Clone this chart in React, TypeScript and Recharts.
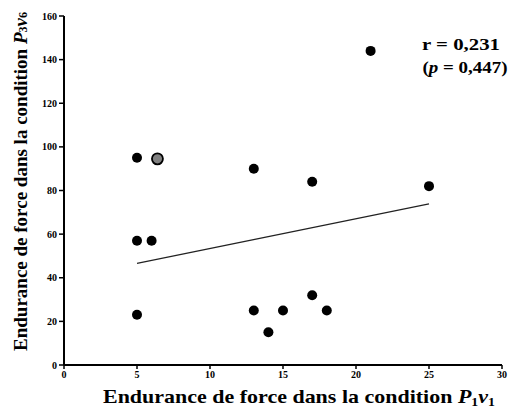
import {
  ScatterChart,
  Scatter,
  XAxis,
  YAxis,
  ReferenceLine,
  Label,
} from "recharts";

const xValues = [5, 5, 5, 6, 13, 13, 14, 15, 17, 17, 18, 21, 25];
const yValues = [95, 57, 23, 57, 90, 25, 15, 25, 32, 84, 25, 144, 82];
const outlierX = [6.4];
const outlierY = [94.5];
const trendX = [5, 25];
const trendY = [46.6, 73.9];
const xTicks = [0, 5, 10, 15, 20, 25, 30];
const yTicks = [0, 20, 40, 60, 80, 100, 120, 140, 160];

const FONT = '"Liberation Serif", "Times New Roman", serif';

const points = xValues.map((x, i) => ({ x, y: yValues[i] }));
const outlier = outlierX.map((x, i) => ({ x, y: outlierY[i] }));

const BlackDot = (props: any) => (
  <circle cx={props.cx} cy={props.cy} r={5} fill="#000" />
);
const GreyDot = (props: any) => (
  <circle
    cx={props.cx}
    cy={props.cy}
    r={5.5}
    fill="#808080"
    stroke="#000"
    strokeWidth={1.8}
  />
);

const XLabel = (props: any) => {
  const vb = props.viewBox;
  return (
    <text
      x={vb.x + vb.width / 2 + 16}
      y={vb.y + vb.height - 6}
      textAnchor="middle"
      textLength={392}
      lengthAdjust="spacingAndGlyphs"
      fontFamily={FONT}
      fontWeight="bold"
      fontSize={19}
      fill="#000"
    >
      Endurance de force dans la condition{" "}
      <tspan fontStyle="italic">P</tspan>
      <tspan fontSize={12} dy={3}>1</tspan>
      <tspan fontStyle="italic" dy={-3}>v</tspan>
      <tspan fontSize={12} dy={3}>1</tspan>
    </text>
  );
};

const YLabel = (props: any) => {
  const vb = props.viewBox;
  const cx = 20;
  const cy = vb.y + vb.height / 2 - 9;
  return (
    <text
      x={cx}
      y={cy}
      transform={`rotate(-90 ${cx} ${cy})`}
      textAnchor="middle"
      dominantBaseline="central"
      fontFamily={FONT}
      fontWeight="bold"
      fontSize={19}
      fill="#000"
    >
      Endurance de force dans la condition{" "}
      <tspan fontStyle="italic">P</tspan>
      <tspan fontSize={12} dy={3}>3</tspan>
      <tspan fontStyle="italic" dy={-3}>v</tspan>
      <tspan fontSize={12} dy={3}>6</tspan>
    </text>
  );
};

export default function App() {
  return (
    <div style={{ position: "absolute", left: 0, top: 0, background: "#fff" }}>
      <ScatterChart
        width={510}
        height={409}
        margin={{ top: 16, right: 8, bottom: 0, left: 20 }}
      >
        <XAxis
          type="number"
          dataKey="x"
          domain={[0, 30]}
          ticks={xTicks}
          allowDataOverflow
          axisLine={{ stroke: "#000", strokeWidth: 2 }}
          tickLine={{ stroke: "#000", strokeWidth: 1.5 }}
          tickSize={4}
          height={44}
          tick={{ fontFamily: FONT, fontWeight: "bold", fontSize: 10, fill: "#000" }}
        >
          <Label content={XLabel} />
        </XAxis>
        <YAxis
          type="number"
          dataKey="y"
          domain={[0, 160]}
          ticks={yTicks}
          allowDataOverflow
          width={44}
          axisLine={{ stroke: "#000", strokeWidth: 2 }}
          tickLine={{ stroke: "#000", strokeWidth: 1.5 }}
          tickSize={5}
          tick={{ fontFamily: FONT, fontWeight: "bold", fontSize: 10, fill: "#000" }}
        >
          <Label content={YLabel} />
        </YAxis>
        <ReferenceLine
          segment={[
            { x: trendX[0], y: trendY[0] },
            { x: trendX[1], y: trendY[1] },
          ]}
          stroke="#222"
          strokeWidth={1.2}
          ifOverflow="visible"
        />
        <Scatter data={points} shape={BlackDot} isAnimationActive={false} />
        <Scatter data={outlier} shape={GreyDot} isAnimationActive={false} />
        <text
          x={461}
          y={50}
          textAnchor="middle"
          textLength={78}
          lengthAdjust="spacingAndGlyphs"
          fontFamily={FONT}
          fontWeight="bold"
          fontSize={17}
          fill="#000"
        >
          r = 0,231
        </text>
        <text
          x={465}
          y={73}
          textAnchor="middle"
          textLength={85}
          lengthAdjust="spacingAndGlyphs"
          fontFamily={FONT}
          fontWeight="bold"
          fontSize={17}
          fill="#000"
        >
          (<tspan fontStyle="italic">p</tspan> = 0,447)
        </text>
      </ScatterChart>
    </div>
  );
}
